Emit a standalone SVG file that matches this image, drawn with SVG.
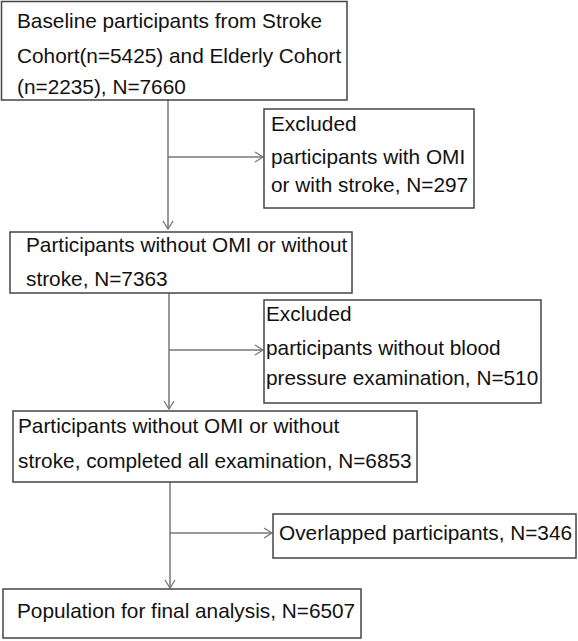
<svg xmlns="http://www.w3.org/2000/svg" width="578" height="641" viewBox="0 0 578 641">
<defs>
<style>
.box{fill:#fff;stroke:#444;stroke-width:1.5}
.t{font-family:"Liberation Sans",Arial,sans-serif;font-size:20.8px;fill:#111}
.c{fill:none;stroke:#777;stroke-width:1.5}
</style>
<marker id="ah" markerWidth="12" markerHeight="12" refX="9" refY="6" orient="auto" markerUnits="userSpaceOnUse">
<path d="M1,1 L9,6 L1,11" fill="none" stroke="#777" stroke-width="1.3"/>
</marker>
</defs>
<rect width="578" height="641" fill="#fff"/>
<g id="connectors">
<line class="c" x1="168" y1="100" x2="168" y2="229" marker-end="url(#ah)"/>
<line class="c" x1="168" y1="157" x2="263" y2="157" marker-end="url(#ah)"/>
<line class="c" x1="169" y1="293" x2="169" y2="409" marker-end="url(#ah)"/>
<line class="c" x1="169" y1="350" x2="263" y2="350" marker-end="url(#ah)"/>
<line class="c" x1="170" y1="482" x2="170" y2="588" marker-end="url(#ah)"/>
<line class="c" x1="170" y1="533" x2="272" y2="533" marker-end="url(#ah)"/>
</g>
<g id="n1">
<rect class="box" x="1.5" y="1.5" width="345.5" height="98.5"/>
<text class="t" x="17" y="28">Baseline participants from Stroke</text>
<text class="t" x="17" y="63">Cohort(n=5425) and Elderly Cohort</text>
<text class="t" x="17" y="94">(n=2235), N=7660</text>
</g>
<g id="n2">
<rect class="box" x="264" y="109" width="210" height="99"/>
<text class="t" x="271" y="131">Excluded</text>
<text class="t" x="271" y="164">participants with OMI</text>
<text class="t" x="271" y="192">or with stroke, N=297</text>
</g>
<g id="n3">
<rect class="box" x="10" y="232" width="342" height="61"/>
<text class="t" x="26" y="252">Participants without OMI or without</text>
<text class="t" x="26" y="286">stroke, N=7363</text>
</g>
<g id="n4">
<rect class="box" x="264" y="300" width="277" height="103"/>
<text class="t" x="266" y="321">Excluded</text>
<text class="t" x="266" y="355">participants without blood</text>
<text class="t" x="266" y="385">pressure examination, N=510</text>
</g>
<g id="n5">
<rect class="box" x="13" y="411" width="404" height="71"/>
<text class="t" x="18" y="433">Participants without OMI or without</text>
<text class="t" x="18" y="468">stroke, completed all examination, N=6853</text>
</g>
<g id="n6">
<rect class="box" x="273" y="514" width="303" height="44"/>
<text class="t" x="279" y="540">Overlapped participants, N=346</text>
</g>
<g id="n7">
<rect class="box" x="3" y="589" width="358" height="49"/>
<text class="t" x="17" y="618">Population for final analysis, N=6507</text>
</g>
</svg>
